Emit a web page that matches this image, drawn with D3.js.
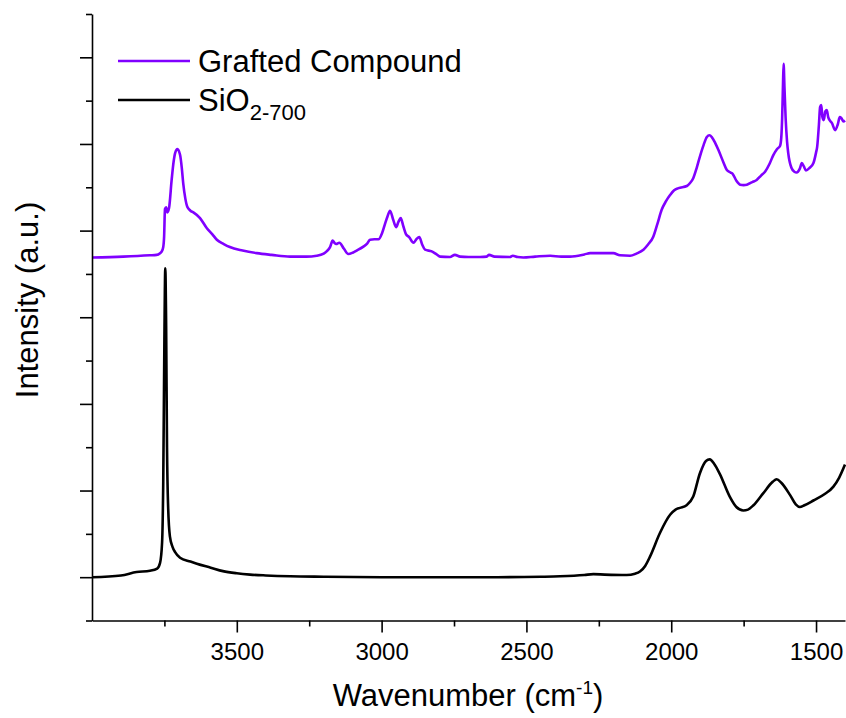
<!DOCTYPE html>
<html><head><meta charset="utf-8">
<script src="https://cdn.jsdelivr.net/npm/d3@7"></script>
<style>body{margin:0;background:#fff} svg{display:block} text{font-family:"Liberation Sans",Arial,sans-serif;fill:#000}</style>
</head><body><svg id="c" width="846" height="718"></svg>
<script>
const graftedWavenumber = [4000,3892,3800,3777,3765,3759,3754,3751,3748,3744,3740,3734,3725,3718,3713,3705,3696,3690,3685,3678,3671,3660,3650,3627,3604,3585,3569,3545,3524,3480,3431,3380,3316,3260,3224,3200,3190,3178,3169,3163,3157,3146,3130,3115,3100,3086,3063,3050,3040,3025,3011,2998,2988,2980,2971,2960,2950,2942,2934,2925,2916,2905,2890,2880,2870,2860,2850,2827,2810,2798,2764,2747,2729,2700,2660,2637,2629,2610,2557,2547,2530,2511,2470,2418,2380,2349,2300,2280,2246,2200,2177,2142,2120,2096,2080,2062,2048,2033,2018,2004,1990,1975,1946,1935,1924,1912,1901,1888,1877,1868,1860,1848,1837,1820,1808,1795,1788,1775,1762,1750,1739,1720,1705,1690,1676,1660,1647,1635,1624,1620,1617,1614,1612,1609,1605,1600,1596,1585,1575,1567,1556,1549,1542,1535,1522,1509,1500,1496,1490,1486,1482,1478,1474,1472,1468,1463,1458,1452,1445,1434,1425,1418,1413,1405,1400];
const graftedIntensity = [8.38,8.40,8.43,8.44,8.48,8.52,8.62,8.86,9.50,9.54,9.42,9.52,10.17,10.60,10.79,10.88,10.75,10.45,10.09,9.75,9.55,9.46,9.42,9.29,9.06,8.92,8.79,8.69,8.62,8.54,8.48,8.44,8.40,8.40,8.42,8.47,8.52,8.62,8.77,8.72,8.69,8.72,8.58,8.46,8.49,8.54,8.63,8.70,8.79,8.80,8.80,8.95,9.16,9.32,9.46,9.25,9.08,9.20,9.29,9.10,8.92,8.85,8.72,8.80,8.85,8.68,8.56,8.52,8.45,8.40,8.39,8.44,8.40,8.39,8.39,8.40,8.44,8.40,8.39,8.42,8.39,8.38,8.40,8.42,8.40,8.40,8.45,8.48,8.48,8.48,8.43,8.42,8.47,8.56,8.68,8.86,9.15,9.48,9.68,9.82,9.93,9.98,10.03,10.10,10.21,10.45,10.71,10.98,11.16,11.20,11.16,11.02,10.86,10.58,10.40,10.34,10.31,10.15,10.06,10.05,10.06,10.12,10.17,10.27,10.36,10.55,10.75,10.88,10.96,11.15,11.60,12.40,12.85,12.30,11.60,11.05,10.79,10.45,10.36,10.34,10.43,10.56,10.48,10.39,10.45,10.56,10.80,10.94,11.45,11.85,11.90,11.62,11.55,11.59,11.75,11.78,11.62,11.54,11.48,11.32,11.45,11.62,11.60,11.52,11.54];
const silicaWavenumber = [4000,3900,3846,3800,3775,3765,3758,3754,3750,3747,3744,3741,3737,3731,3722,3713,3696,3660,3638,3590,3548,3500,3454,3400,3316,3200,3000,2800,2600,2450,2384,2300,2269,2230,2154,2125,2108,2090,2073,2039,2004,1985,1970,1947,1924,1901,1880,1867,1852,1832,1798,1775,1751,1735,1716,1682,1650,1636,1620,1590,1570,1556,1540,1509,1470,1440,1420,1400];
const silicaIntensity = [1.00,1.04,1.12,1.15,1.20,1.33,1.80,3.20,6.50,8.13,6.80,4.00,2.60,1.94,1.70,1.58,1.45,1.36,1.31,1.22,1.14,1.09,1.06,1.04,1.02,1.01,1.00,1.00,1.00,1.01,1.02,1.05,1.07,1.06,1.05,1.08,1.13,1.26,1.48,2.02,2.44,2.56,2.60,2.66,2.86,3.40,3.68,3.72,3.62,3.38,2.86,2.62,2.54,2.56,2.66,2.94,3.20,3.26,3.18,2.90,2.68,2.62,2.66,2.77,2.92,3.09,3.30,3.60];
const xMajorTicks = [3500,3000,2500,2000,1500];
const xMinorTicks = [3750,3250,2750,2250,1750];
const yMajorTicks = [1,3,5,7,9,11,13];
const yMinorTicks = [0,2,4,6,8,10,12,14];
const seriesNames = ["Grafted Compound","SiO"];
const seriesColors = ["#8000ff","#000000"];

const svg = d3.select("#c");
const x = d3.scaleLinear().domain([4000,1400]).range([92,845]);
const y = d3.scaleLinear().domain([0,14]).range([620.5,14]);

const clip = svg.append("defs").append("clipPath").attr("id","clip")
  .append("rect").attr("x",92).attr("y",0).attr("width",754).attr("height",621);

const line = d3.line().x(d=>x(d[0])).y(d=>y(d[1])).curve(d3.curveMonotoneX);
const series = [
  d3.zip(silicaWavenumber, silicaIntensity),
  d3.zip(graftedWavenumber, graftedIntensity)
];
const colors = [seriesColors[1], seriesColors[0]];
const g = svg.append("g").attr("clip-path","url(#clip)");
series.forEach((s,i)=>{
  g.append("path").datum(s).attr("d",line).attr("fill","none")
   .attr("stroke",colors[i]).attr("stroke-width",2.6).attr("stroke-linejoin","round");
});

// axes
const xAxis = svg.append("g").attr("transform","translate(0,620.5)")
  .call(d3.axisBottom(x).tickValues(xMajorTicks).tickSize(12).tickSizeOuter(0).tickPadding(10).tickFormat(d3.format("d")));
svg.append("g").attr("transform","translate(0,620.5)")
  .call(d3.axisBottom(x).tickValues(xMinorTicks).tickSize(6).tickSizeOuter(0).tickFormat(""))
  .select(".domain").remove();
const yAxis = svg.append("g").attr("transform","translate(92,0)")
  .call(d3.axisLeft(y).tickValues(yMajorTicks).tickSize(12).tickSizeOuter(0).tickFormat(""));
svg.append("g").attr("transform","translate(92,0)")
  .call(d3.axisLeft(y).tickValues(yMinorTicks).tickSize(6).tickSizeOuter(0).tickFormat(""))
  .select(".domain").remove();
svg.selectAll(".domain, .tick line").attr("stroke","#000").attr("stroke-width",1.6);
xAxis.selectAll("text").style("font-size","24px").attr("fill","#000");

// axis titles
const xt = svg.append("text").attr("x",468).attr("y",706).attr("text-anchor","middle").style("font-size","31px");
xt.append("tspan").text("Wavenumber (cm");
xt.append("tspan").attr("dy",-12).style("font-size","19px").text("-1");
xt.append("tspan").attr("dy",12).text(")");
svg.append("text").attr("transform","translate(38,300) rotate(-90)").attr("text-anchor","middle")
  .style("font-size","31px").text("Intensity (a.u.)");

// legend
const leg = [{name:seriesNames[0], color:seriesColors[0], y:61},{name:seriesNames[1], color:seriesColors[1], y:100}];
leg.forEach((d,i)=>{
  svg.append("line").attr("x1",118).attr("x2",190).attr("y1",d.y).attr("y2",d.y)
    .attr("stroke",d.color).attr("stroke-width",2.6);
  const t = svg.append("text").attr("x",198).attr("y",d.y+11).style("font-size","31px");
  t.append("tspan").text(d.name);
  if(i===1){ t.append("tspan").attr("dy",9).style("font-size","22px").text("2-700"); }
});
</script>
</body></html>
